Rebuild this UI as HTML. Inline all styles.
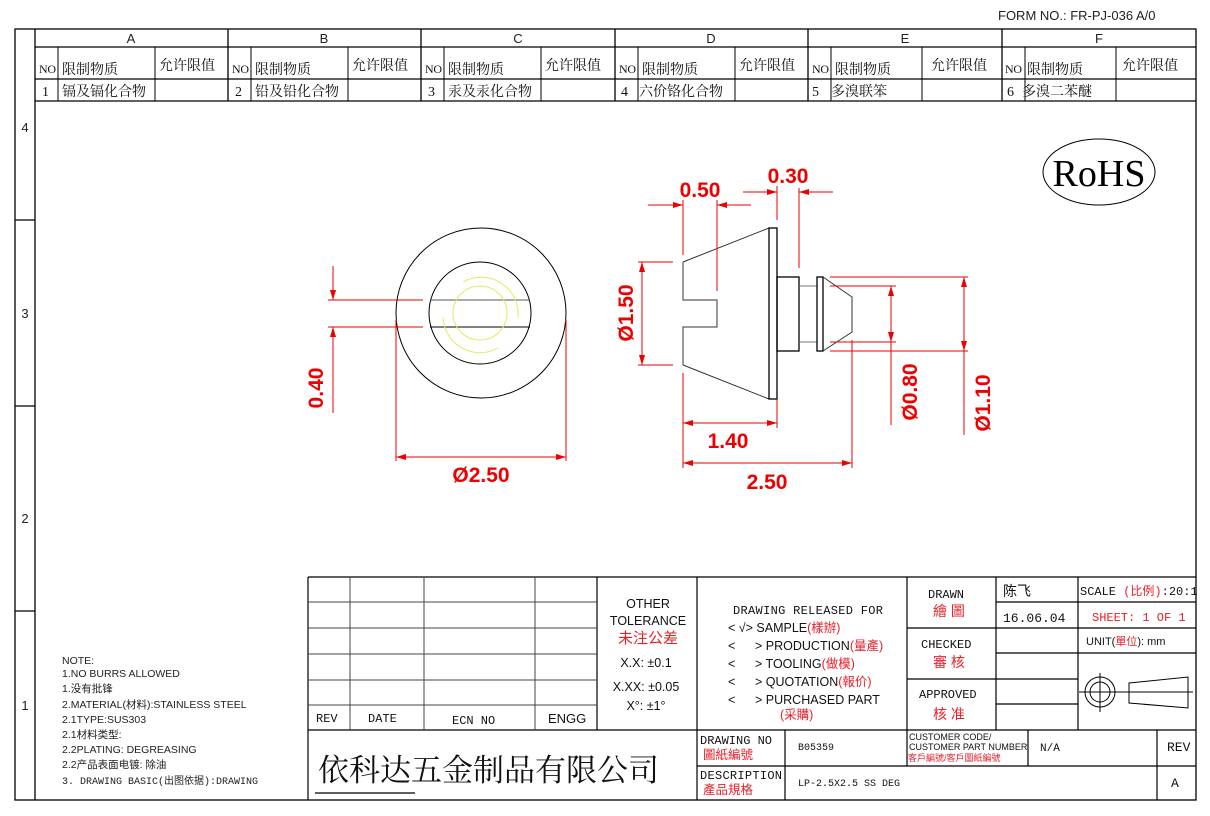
<!DOCTYPE html>
<html><head><meta charset="utf-8"><style>
html,body{margin:0;padding:0;background:#fff;}
svg{display:block;}
text{font-family:"Liberation Sans","Noto Sans CJK SC",sans-serif;}
.m text,text.m{font-family:"Liberation Mono","Noto Sans CJK SC",monospace;}
.s text,text.s{font-family:"Liberation Serif","Noto Serif CJK SC",serif;}
.r{fill:#e8202a;}
.d{fill:#e00;font-weight:bold;font-size:21px;}
</style></head><body>
<svg width="1210" height="816" viewBox="0 0 1210 816" xmlns="http://www.w3.org/2000/svg">
<defs>
<marker id="a" viewBox="0 0 10 6" refX="10" refY="3" markerWidth="10" markerHeight="6" orient="auto-start-reverse" markerUnits="userSpaceOnUse"><path d="M0,0 L10,3 L0,6z" fill="#e00"/></marker>
</defs>
<text x="998" y="20" font-size="13" fill="#222">FORM NO.: FR-PJ-036 A/0</text>
<g stroke="#000" stroke-width="1.3" fill="none">
<rect x="15" y="29" width="1181" height="771"/>
<line x1="35" y1="29" x2="35" y2="800"/>
<line x1="15" y1="220" x2="35" y2="220"/><line x1="15" y1="406" x2="35" y2="406"/><line x1="15" y1="611" x2="35" y2="611"/>
<line x1="35" y1="47" x2="1196" y2="47"/>
<line x1="35" y1="79" x2="1196" y2="79"/>
<line x1="35" y1="101" x2="1196" y2="101"/>
<line x1="228" y1="29" x2="228" y2="101"/><line x1="421" y1="29" x2="421" y2="101"/><line x1="615" y1="29" x2="615" y2="101"/><line x1="808" y1="29" x2="808" y2="101"/><line x1="1002" y1="29" x2="1002" y2="101"/>
</g>
<g stroke="#000" stroke-width="1" fill="none">
<line x1="58" y1="47" x2="58" y2="101"/><line x1="155" y1="47" x2="155" y2="101"/>
<line x1="251" y1="47" x2="251" y2="101"/><line x1="348" y1="47" x2="348" y2="101"/>
<line x1="444" y1="47" x2="444" y2="101"/><line x1="541" y1="47" x2="541" y2="101"/>
<line x1="638" y1="47" x2="638" y2="101"/><line x1="735" y1="47" x2="735" y2="101"/>
<line x1="831" y1="47" x2="831" y2="101"/><line x1="922" y1="47" x2="922" y2="101"/>
<line x1="1025" y1="47" x2="1025" y2="101"/><line x1="1116" y1="47" x2="1116" y2="101"/>
</g>
<g font-size="13" fill="#222" text-anchor="middle">
<text x="131" y="43">A</text><text x="324" y="43">B</text><text x="518" y="43">C</text><text x="711" y="43">D</text><text x="905" y="43">E</text><text x="1099" y="43">F</text>
<text x="25" y="132">4</text><text x="25" y="318">3</text><text x="25" y="523">2</text><text x="25" y="710">1</text>
</g>
<g font-size="14" fill="#111" class="s">
<text x="39" y="73" font-size="12" textLength="17">NO</text><text x="62" y="74">限制物质</text><text x="159" y="70">允许限值</text>
<text x="232" y="73" font-size="12" textLength="17">NO</text><text x="255" y="74">限制物质</text><text x="352" y="70">允许限值</text>
<text x="425" y="73" font-size="12" textLength="17">NO</text><text x="448" y="74">限制物质</text><text x="545" y="70">允许限值</text>
<text x="619" y="73" font-size="12" textLength="17">NO</text><text x="642" y="74">限制物质</text><text x="739" y="70">允许限值</text>
<text x="812" y="73" font-size="12" textLength="17">NO</text><text x="835" y="74">限制物质</text><text x="931" y="70">允许限值</text>
<text x="1005" y="73" font-size="12" textLength="17">NO</text><text x="1027" y="74">限制物质</text><text x="1122" y="70">允许限值</text>
<text x="42" y="96">1</text><text x="62" y="96">镉及镉化合物</text>
<text x="235" y="96">2</text><text x="255" y="96">铅及铅化合物</text>
<text x="428" y="96">3</text><text x="448" y="96">汞及汞化合物</text>
<text x="621" y="96">4</text><text x="639" y="96">六价铬化合物</text>
<text x="812" y="96">5</text><text x="831" y="96">多溴联笨</text>
<text x="1007" y="96">6</text><text x="1022" y="96">多溴二苯醚</text>
</g>
<ellipse cx="1099" cy="172" rx="56" ry="33" fill="none" stroke="#000" stroke-width="1"/>
<text x="1099" y="186" font-size="38" text-anchor="middle" class="s" fill="#000">RoHS</text>

<g fill="none" stroke="#000" stroke-width="1">
<circle cx="481" cy="313" r="85"/>
<circle cx="480" cy="313" r="51"/>
<line x1="430" y1="300" x2="530" y2="300" stroke="#555"/>
<line x1="430" y1="327" x2="530" y2="327"/>
</g>
<g fill="none" stroke="#e8e860" stroke-width="1">
<circle cx="480" cy="313" r="27"/>
<path d="M463,282 A37,37 0 0 1 518,318"/>
<path d="M443,317 A37,37 0 0 0 498,348"/>
</g>
<g stroke="#e00" stroke-width="1" fill="none">
<line x1="328" y1="300" x2="423" y2="300"/><line x1="328" y1="327" x2="423" y2="327"/>
<line x1="333" y1="266" x2="333" y2="300" marker-end="url(#a)"/>
<line x1="333" y1="413" x2="333" y2="327" marker-end="url(#a)"/>
<line x1="396" y1="320" x2="396" y2="461"/><line x1="566" y1="320" x2="566" y2="461"/>
<line x1="396" y1="457" x2="566" y2="457" marker-start="url(#a)" marker-end="url(#a)"/>
</g>
<text class="d" x="481" y="482" text-anchor="middle">Ø2.50</text>
<text class="d" transform="translate(323,388) rotate(-90)" text-anchor="middle">0.40</text>

<g fill="none" stroke="#000" stroke-width="1">
<path d="M683,262 L769,228 M683,365 L769,399" stroke="#333"/>
<path d="M683,262 L683,300 L717,300 L717,327 L683,327 L683,365" stroke="#333"/>
<rect x="769" y="228" width="8" height="171" stroke-width="1.3"/>
<rect x="777" y="277" width="22" height="74" stroke-width="1.3"/>
<line x1="799" y1="286" x2="817" y2="286" stroke="#777"/><line x1="799" y1="342" x2="817" y2="342" stroke="#777"/>
<rect x="817" y="277" width="6" height="74" stroke-width="1.3"/>
<path d="M823,277 L852,297 L852,332 L823,351" stroke="#333"/>
</g>
<g stroke="#e00" stroke-width="1" fill="none">
<line x1="683" y1="200" x2="683" y2="255"/><line x1="717" y1="200" x2="717" y2="291"/>
<line x1="648" y1="205" x2="683" y2="205" marker-end="url(#a)"/><line x1="751" y1="205" x2="717" y2="205" marker-end="url(#a)"/>
<line x1="777" y1="186" x2="777" y2="220"/><line x1="799" y1="188" x2="799" y2="268"/>
<line x1="743" y1="192" x2="777" y2="192" marker-end="url(#a)"/><line x1="833" y1="192" x2="799" y2="192" marker-end="url(#a)"/>
<line x1="638" y1="262" x2="673" y2="262"/><line x1="638" y1="365" x2="673" y2="365"/>
<line x1="642" y1="262" x2="642" y2="365" marker-start="url(#a)" marker-end="url(#a)"/>
<line x1="683" y1="373" x2="683" y2="468"/><line x1="777" y1="399" x2="777" y2="428"/>
<line x1="683" y1="423" x2="777" y2="423" marker-start="url(#a)" marker-end="url(#a)"/>
<line x1="852" y1="340" x2="852" y2="468"/>
<line x1="683" y1="463" x2="852" y2="463" marker-start="url(#a)" marker-end="url(#a)"/>
<line x1="830" y1="286" x2="896" y2="286"/><line x1="830" y1="342" x2="896" y2="342"/>
<line x1="891" y1="286" x2="891" y2="342" marker-start="url(#a)" marker-end="url(#a)"/>
<line x1="891" y1="342" x2="891" y2="425"/>
<line x1="830" y1="277" x2="968" y2="277"/><line x1="830" y1="351" x2="968" y2="351"/>
<line x1="964" y1="277" x2="964" y2="351" marker-start="url(#a)" marker-end="url(#a)"/>
<line x1="964" y1="351" x2="964" y2="435"/>
</g>
<text class="d" x="700" y="197" text-anchor="middle">0.50</text>
<text class="d" x="788" y="183" text-anchor="middle">0.30</text>
<text class="d" x="728" y="448" text-anchor="middle">1.40</text>
<text class="d" x="767" y="489" text-anchor="middle">2.50</text>
<text class="d" transform="translate(633,313) rotate(-90)" text-anchor="middle">Ø1.50</text>
<text class="d" transform="translate(917,392) rotate(-90)" text-anchor="middle">Ø0.80</text>
<text class="d" transform="translate(990,403) rotate(-90)" text-anchor="middle">Ø1.10</text>

<g font-size="10.5" fill="#222">
<text x="62" y="664">NOTE:</text>
<text x="62" y="677">1.NO BURRS ALLOWED</text>
<text x="62" y="692">1.没有批锋</text>
<text x="62" y="708">2.MATERIAL(材料):STAINLESS STEEL</text>
<text x="62" y="723">2.1TYPE:SUS303</text>
<text x="62" y="738">2.1材料类型:</text>
<text x="62" y="753">2.2PLATING: DEGREASING</text>
<text x="62" y="768">2.2产品表面电镀: 除油</text>
<text x="62" y="784" class="m" font-size="10">3. DRAWING BASIC(出图依据):DRAWING</text>
</g>

<g stroke="#000" stroke-width="1.2" fill="none">
<line x1="308" y1="577" x2="1196" y2="577"/>
<line x1="308" y1="577" x2="308" y2="800"/>
<line x1="308" y1="730" x2="1196" y2="730"/>
<line x1="597" y1="577" x2="597" y2="730"/>
<line x1="697" y1="577" x2="697" y2="800"/>
<line x1="907" y1="577" x2="907" y2="766"/>
<line x1="996" y1="577" x2="996" y2="730"/>
<line x1="1078" y1="577" x2="1078" y2="730"/>
<line x1="697" y1="766" x2="1196" y2="766"/>
<line x1="785" y1="730" x2="785" y2="800"/>
<line x1="1028" y1="730" x2="1028" y2="766"/>
<line x1="1157" y1="730" x2="1157" y2="800"/>
<line x1="907" y1="628" x2="996" y2="628"/><line x1="907" y1="679" x2="996" y2="679"/>
<line x1="996" y1="602" x2="1196" y2="602"/><line x1="996" y1="628" x2="1196" y2="628"/>
<line x1="996" y1="653" x2="1196" y2="653"/><line x1="996" y1="679" x2="1078" y2="679"/><line x1="996" y1="704" x2="1078" y2="704"/>
</g>
<g stroke="#444" stroke-width="1" fill="none">
<line x1="350" y1="577" x2="350" y2="730"/><line x1="424" y1="577" x2="424" y2="730"/><line x1="535" y1="577" x2="535" y2="730"/>
<line x1="308" y1="602" x2="597" y2="602"/><line x1="308" y1="628" x2="597" y2="628"/><line x1="308" y1="654" x2="597" y2="654"/>
<line x1="308" y1="680" x2="597" y2="680"/><line x1="308" y1="705" x2="597" y2="705"/>
</g>
<g class="m" font-size="12" fill="#111">
<text x="316" y="722">REV</text><text x="368" y="722">DATE</text><text x="452" y="724">ECN NO</text>
</g>
<text x="548" y="723" font-size="13" fill="#111">ENGG</text>
<g font-size="12.5" fill="#111" text-anchor="middle">
<text x="648" y="608">OTHER</text><text x="648" y="625">TOLERANCE</text>
<text x="648" y="643" class="r" font-size="15">未注公差</text>
<text x="646" y="667">X.X: ±0.1</text>
<text x="646" y="691">X.XX: ±0.05</text>
<text x="646" y="710">X°: ±1°</text>
</g>
<g class="m" font-size="12" fill="#111">
<text x="733" y="614" textLength="150">DRAWING RELEASED FOR</text>
</g>
<g font-size="12.5" fill="#111">
<text x="728" y="632">&lt; √&gt; SAMPLE<tspan class="r">(樣辦)</tspan></text>
<text x="728" y="650">&lt;</text><text x="755" y="650">&gt; PRODUCTION<tspan class="r">(量產)</tspan></text>
<text x="728" y="668">&lt;</text><text x="755" y="668">&gt; TOOLING<tspan class="r">(做模)</tspan></text>
<text x="728" y="686">&lt;</text><text x="755" y="686">&gt; QUOTATION<tspan class="r">(報价)</tspan></text>
<text x="728" y="704">&lt;</text><text x="755" y="704">&gt; PURCHASED PART</text>
<text x="780" y="719" class="r">(采購)</text>
</g>
<text x="318" y="781" font-size="31" class="s" fill="#111">依科达五金制品有限公司</text>
<line x1="315" y1="793" x2="415" y2="793" stroke="#000" stroke-width="1.2"/>
<g class="m" font-size="12" fill="#111">
<text x="700" y="744">DRAWING NO</text>
<text x="700" y="779" textLength="82">DESCRIPTION</text>
<text x="798" y="750" font-size="10">B05359</text>
<text x="798" y="786" font-size="10">LP-2.5X2.5 SS DEG</text>
<text x="1040" y="751" font-size="11">N/A</text>
<text x="1167" y="751" font-size="13">REV</text>
<text x="1171" y="787" font-size="13">A</text>
<text x="928" y="598">DRAWN</text><text x="921" y="648">CHECKED</text><text x="919" y="698">APPROVED</text>
<text x="1003" y="622" font-size="13">16.06.04</text>
<text x="1080" y="595" font-size="12">SCALE <tspan class="r">(比例)</tspan>:20:1</text>
<text x="1092" y="621" class="r">SHEET: 1 OF 1</text>
</g>
<g font-size="12.5" class="r">
<text x="703" y="759">圖紙編號</text>
<text x="703" y="794">產品規格</text>
<text x="933" y="616" font-size="14">繪 圖</text>
<text x="933" y="667" font-size="14">審 核</text>
<text x="933" y="719" font-size="14">核 准</text>
</g>
<text x="1003" y="596" font-size="14" fill="#111">陈飞</text>
<text x="1086" y="645" font-size="11" fill="#111">UNIT(<tspan class="r">單位</tspan>): mm</text>
<g font-size="9" fill="#111">
<text x="909" y="740">CUSTOMER CODE/</text>
<text x="909" y="750">CUSTOMER PART NUMBER</text>
<text x="908" y="761" class="r">客戶編號/客戶圖紙編號</text>
</g>
<g fill="none" stroke="#000" stroke-width="1">
<circle cx="1100" cy="692" r="15"/><circle cx="1100" cy="692" r="10"/>
<line x1="1079" y1="692" x2="1193" y2="692"/><line x1="1100" y1="673" x2="1100" y2="712"/>
<path d="M1129,683 L1188,677 L1188,708 L1129,703 Z"/>
</g>
</svg>
</body></html>
